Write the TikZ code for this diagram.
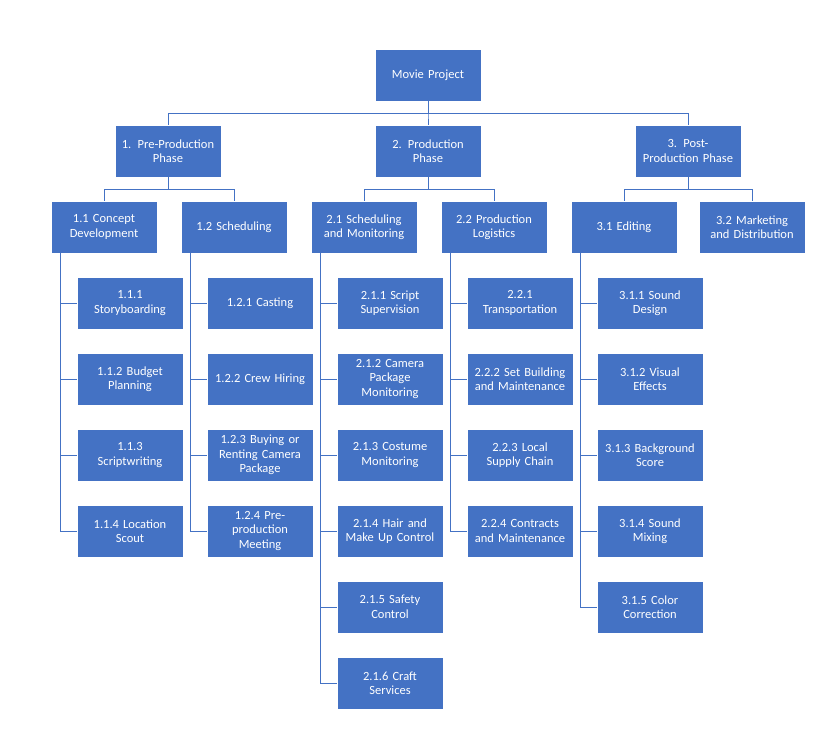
\documentclass[tikz,border=0pt]{standalone}
\usepackage{fontspec}
\setmainfont{Carlito}
\begin{document}
\begin{tikzpicture}[x=1pt,y=-1pt,
  bx/.style={draw=white,line width=0.8pt,fill={rgb,255:red,68;green,114;blue,196},text=white,minimum width=106pt,minimum height=52pt,inner sep=1pt,align=center,font=\fontsize{12.5}{14.5}\selectfont,text width=104pt},
  ln/.style={draw={rgb,255:red,68;green,114;blue,196},line width=0.9pt}]
\useasboundingbox (0,0) rectangle (821,739);
\def\B#1#2#3#4{\node[bx] (#1) at (#2,#3) {#4};}
\B{r}{428}{75}{Movie Project}
\B{a}{168}{151}{1. Pre-Production\\Phase}
\B{b}{428}{151}{2. Production\\Phase}
\B{c}{688}{151}{3. Post-\\Production Phase}
\B{a1}{104}{227}{1.1 Concept\\Development}
\B{a2}{234}{227}{1.2 Scheduling}
\B{b1}{364}{227}{2.1 Scheduling\\and Monitoring}
\B{b2}{494}{227}{2.2 Production\\Logistics}
\B{c1}{624}{227}{3.1 Editing}
\B{c2}{752}{227}{3.2 Marketing\\and Distribution}
% children
\B{a11}{130}{303}{1.1.1\\Storyboarding}
\B{a12}{130}{379}{1.1.2 Budget\\Planning}
\B{a13}{130}{455}{1.1.3\\Scriptwriting}
\B{a14}{130}{531}{1.1.4 Location\\Scout}
\B{a21}{260}{303}{1.2.1 Casting}
\B{a22}{260}{379}{1.2.2 Crew Hiring}
\B{a23}{260}{455}{1.2.3 Buying or\\Renting Camera\\Package}
\B{a24}{260}{531}{1.2.4 Pre-\\production\\Meeting}
\B{b11}{390}{303}{2.1.1 Script\\Supervision}
\B{b12}{390}{379}{2.1.2 Camera\\Package\\Monitoring}
\B{b13}{390}{455}{2.1.3 Costume\\Monitoring}
\B{b14}{390}{531}{2.1.4 Hair and\\Make Up Control}
\B{b15}{390}{607}{2.1.5 Safety\\Control}
\B{b16}{390}{683}{2.1.6 Craft\\Services}
\B{b21}{520}{303}{2.2.1\\Transportation}
\B{b22}{520}{379}{2.2.2 Set Building\\and Maintenance}
\B{b23}{520}{455}{2.2.3 Local\\Supply Chain}
\B{b24}{520}{531}{2.2.4 Contracts\\and Maintenance}
\B{c11}{650}{303}{3.1.1 Sound\\Design}
\B{c12}{650}{379}{3.1.2 Visual\\Effects}
\B{c13}{650}{455}{3.1.3 Background\\Score}
\B{c14}{650}{531}{3.1.4 Sound\\Mixing}
\B{c15}{650}{607}{3.1.5 Color\\Correction}
\begin{scope}[on background layer/.style={}]
\foreach \p/\k in {r/a,r/b,r/c}{\draw[ln] (\p.south) -- ++(0,12) -| (\k.north);}
\foreach \p/\k in {a/a1,a/a2,b/b1,b/b2,c/c1,c/c2}{\draw[ln] (\p.south) -- ++(0,12) -| (\k.north);}
\foreach \p/\k in {a1/a11,a1/a12,a1/a13,a1/a14,a2/a21,a2/a22,a2/a23,a2/a24,b1/b11,b1/b12,b1/b13,b1/b14,b1/b15,b1/b16,b2/b21,b2/b22,b2/b23,b2/b24,c1/c11,c1/c12,c1/c13,c1/c14,c1/c15}{\draw[ln] ([xshift=10pt]\p.south west) |- (\k.west);}
\end{scope}
\end{tikzpicture}
\end{document}
